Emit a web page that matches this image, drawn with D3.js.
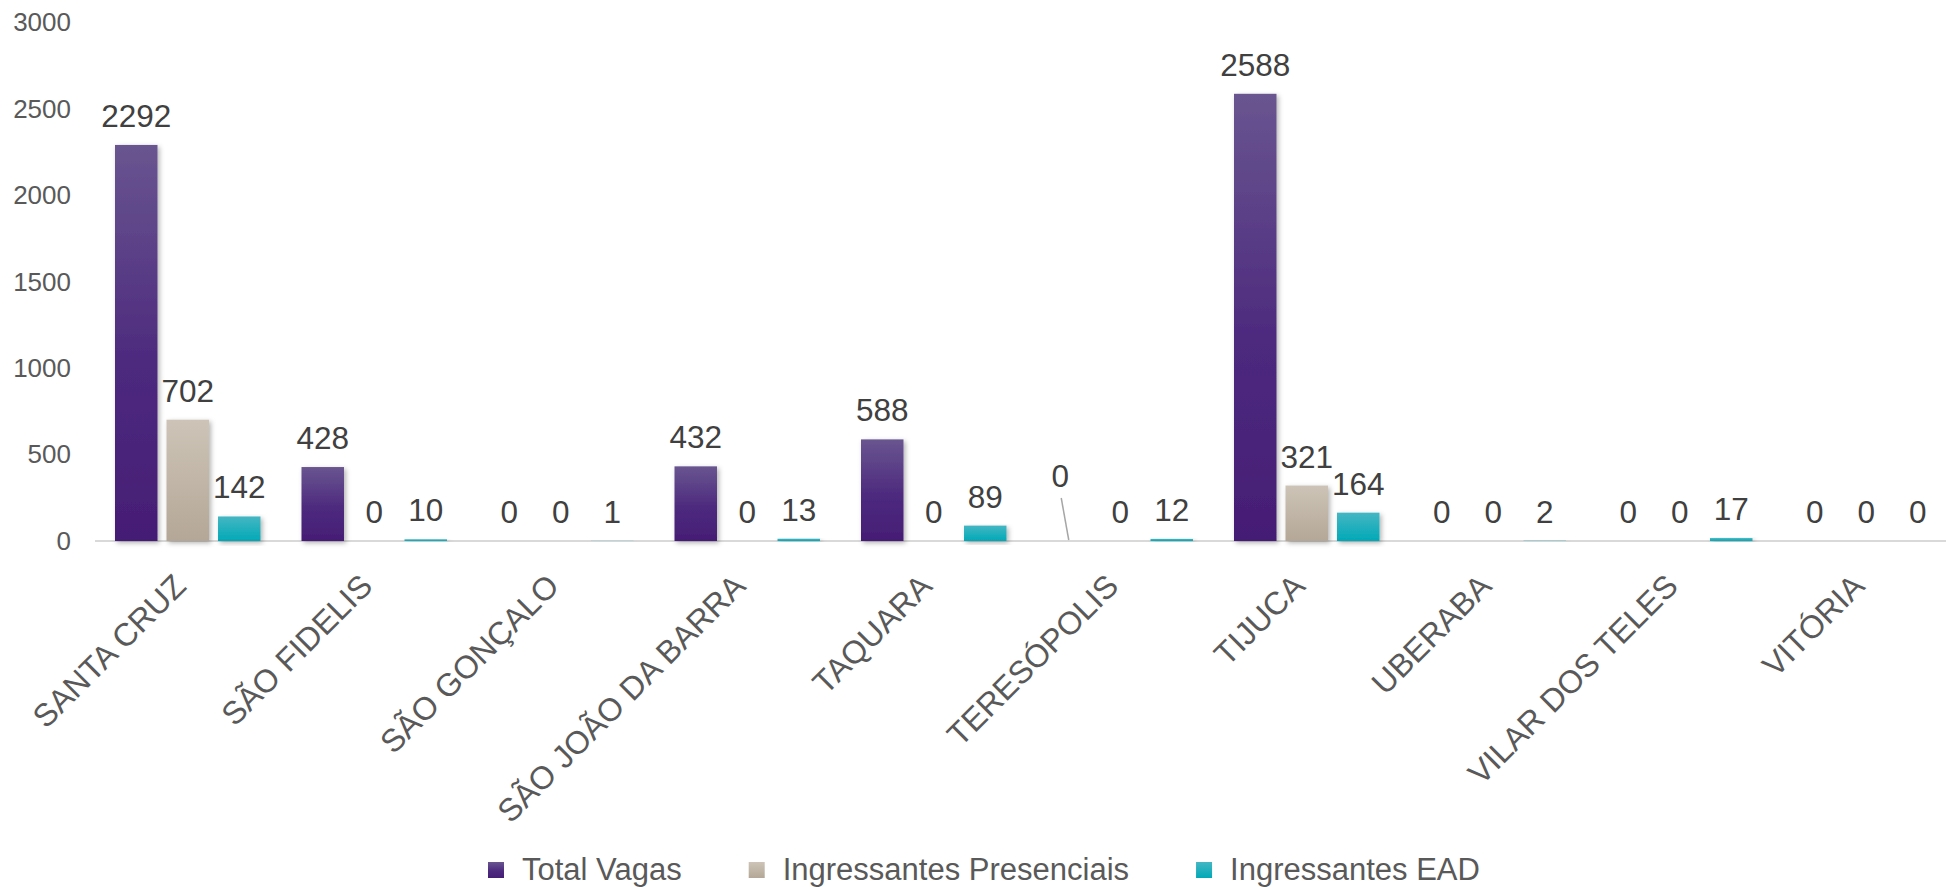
<!DOCTYPE html>
<html>
<head>
<meta charset="utf-8">
<script src="https://cdn.jsdelivr.net/npm/d3@7"></script>
<style>
  html, body { margin: 0; padding: 0; background: #fff; }
  svg { display: block; }
  text { font-family: "Liberation Sans", Arial, sans-serif; }
</style>
</head>
<body>
<svg id="chart" width="1946" height="887"></svg>
<script>
const categories = ["SANTA CRUZ", "SÃO FIDELIS", "SÃO GONÇALO", "SÃO JOÃO DA BARRA", "TAQUARA",
                    "TERESÓPOLIS", "TIJUCA", "UBERABA", "VILAR DOS TELES", "VITÓRIA"];
const seriesNames = ["Total Vagas", "Ingressantes Presenciais", "Ingressantes EAD"];
const totalVagas = [2292, 428, 0, 432, 588, 0, 2588, 0, 0, 0];
const ingressantesPresenciais = [702, 0, 0, 0, 0, 0, 321, 0, 0, 0];
const ingressantesEAD = [142, 10, 1, 13, 89, 12, 164, 2, 17, 0];
const yTicks = [0, 500, 1000, 1500, 2000, 2500, 3000];

const seriesValues = [totalVagas, ingressantesPresenciais, ingressantesEAD];
const seriesIds = ["vagas", "pres", "ead"];
const gradStops = [
  [["0%", "#695590"], ["55%", "#4d2a7e"], ["100%", "#451d75"]],
  [["0%", "#cdc4b7"], ["100%", "#b4a797"]],
  [["0%", "#45b6c3"], ["100%", "#00a9b7"]]
];

const svg = d3.select("#chart");
const defs = svg.append("defs");
seriesIds.forEach((id, i) => {
  const g = defs.append("linearGradient").attr("id", "g-" + id)
    .attr("x1", 0).attr("y1", 0).attr("x2", 0).attr("y2", 1);
  gradStops[i].forEach(s => g.append("stop").attr("offset", s[0]).attr("stop-color", s[1]));
});
const f = defs.append("filter").attr("id", "shadow")
  .attr("x", "-30%").attr("y", "-10%").attr("width", "160%").attr("height", "130%");
f.append("feDropShadow").attr("dx", 2).attr("dy", 2).attr("stdDeviation", 2.5)
  .attr("flood-color", "#000").attr("flood-opacity", 0.3);

const plotLeft = 94.5, groupStep = 186.5;
const baseY = 541, topY = 22.6;

const x0 = d3.scaleBand().domain(categories)
  .range([plotLeft, plotLeft + groupStep * categories.length]).padding(0);
const x1 = d3.scaleBand().domain(seriesNames).range([20.5, groupStep - 20.5]).paddingInner(0.175);
const y = d3.scaleLinear().domain([0, 3000]).range([baseY, topY]);

// baseline
svg.append("line").attr("x1", 95).attr("x2", 1946).attr("y1", baseY).attr("y2", baseY)
  .attr("stroke", "#d9d9d9").attr("stroke-width", 2);

// y axis labels
const yAxis = svg.append("g").attr("transform", "translate(71,0)")
  .call(d3.axisLeft(y).tickValues(yTicks).tickSize(0).tickPadding(0).tickFormat(d3.format("d")));
yAxis.select(".domain").remove();
yAxis.selectAll("text").attr("font-size", 26).attr("fill", "#595959")
  .attr("font-family", "\"Liberation Sans\", Arial, sans-serif");

// bars
const groups = svg.append("g").selectAll("g").data(categories).join("g")
  .attr("transform", d => `translate(${x0(d)},0)`);

groups.selectAll("rect").data((c, ci) => seriesNames.map((s, si) => ({s, si, v: seriesValues[si][ci]})))
  .join("rect")
  .attr("x", d => x1(d.s))
  .attr("width", x1.bandwidth())
  .attr("y", d => y(d.v))
  .attr("height", d => Math.max(0, baseY - y(d.v)))
  .attr("fill", d => `url(#g-${seriesIds[d.si]})`)
  .attr("filter", "url(#shadow)");

// data labels (one label is moved up with a leader line, as in the original)
const movedLabel = {ci: 5, si: 0, dx: -8.5, dy: -36};
groups.each(function(c, ci) {
  const g = d3.select(this);
  seriesNames.forEach((s, si) => {
    const v = seriesValues[si][ci];
    const cx = x1(s) + x1.bandwidth() / 2;
    let lx = cx, ly = y(v) - 18;
    if (ci === movedLabel.ci && si === movedLabel.si) {
      lx += movedLabel.dx; ly += movedLabel.dy;
      g.append("line").attr("x1", lx + 1).attr("y1", ly + 11).attr("x2", cx).attr("y2", y(v) - 1)
        .attr("stroke", "#a6a6a6").attr("stroke-width", 1.5);
    }
    g.append("text").attr("x", lx).attr("y", ly).attr("text-anchor", "middle")
      .attr("font-size", 31.5).attr("fill", "#404040").text(d3.format("d")(v));
  });
});

// category labels
svg.append("g").selectAll("text").data(categories).join("text")
  .attr("transform", d => `translate(${x0(d) + x0.bandwidth() / 2},588) rotate(-45)`)
  .attr("text-anchor", "end")
  .attr("font-size", 32).attr("fill", "#595959")
  .text(d => d);

// legend
const legend = svg.append("g");
let lx = 488;
seriesNames.forEach((s, i) => {
  legend.append("rect").attr("x", lx).attr("y", 862).attr("width", 16).attr("height", 16)
    .attr("fill", `url(#g-${seriesIds[i]})`);
  const t = legend.append("text").attr("x", lx + 34).attr("y", 879.5)
    .attr("font-size", 31).attr("fill", "#595959").text(s);
  lx = lx + 34 + t.node().getComputedTextLength() + 67;
});
</script>
</body>
</html>
